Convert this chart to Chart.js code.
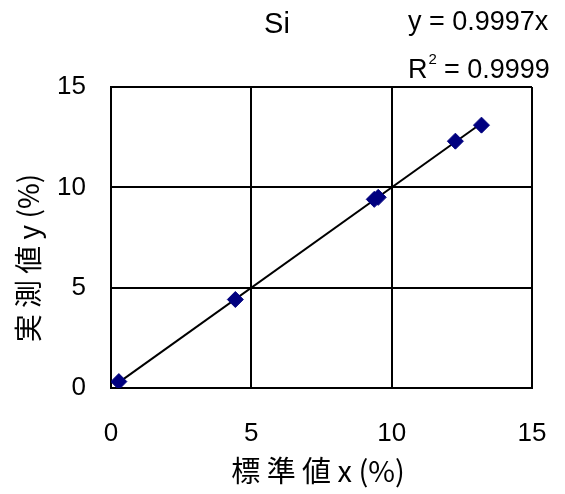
<!DOCTYPE html>
<html><head><meta charset="utf-8">
<script src="https://cdn.jsdelivr.net/npm/chart.js@4"></script>
<style>html,body{margin:0;padding:0;background:#fff;}#wrap{width:565px;height:494px;}</style>
</head><body><div id="wrap"><canvas id="c" width="565" height="494"></canvas></div>
<script>
const standardX = [0.28, 4.43, 9.38, 9.52, 12.27, 13.2];
const measuredY = [0.32, 4.41, 9.40, 9.50, 12.30, 13.10];
const slope = 0.9997;
const trendX = [0.28, 13.2];
const tickValues = [0, 5, 10, 15];
const chartTitle = "Si";
const eqLine1 = "y = 0.9997x";
const eqLine2 = "R";
const eqLine2b = " = 0.9999";
const xTitle = "標 準 値 x (%)";
const yTitle = "実 測 値 y (%)";

const points = standardX.map((x, i) => ({x: x, y: measuredY[i]}));
const trend = trendX.map(x => ({x: x, y: slope * x}));

const textPlugin = {
  id: 'texts',
  afterDraw(chart) {
    const ctx = chart.ctx;
    ctx.save();
    ctx.fillStyle = '#000';
    ctx.textBaseline = 'alphabetic';
    ctx.font = '29px "Liberation Sans", Arial, sans-serif';
    ctx.textAlign = 'center';
    ctx.fillText(chartTitle, 277, 33);
    ctx.font = '27px "Liberation Sans", Arial, sans-serif';
    ctx.textAlign = 'left';
    ctx.fillText(eqLine1, 408, 30);
    ctx.fillText(eqLine2, 408, 78);
    const rw = ctx.measureText(eqLine2).width;
    ctx.font = '15px "Liberation Sans", Arial, sans-serif';
    ctx.fillText('2', 408 + rw + 1, 64);
    ctx.font = '27px "Liberation Sans", Arial, sans-serif';
    ctx.fillText(eqLine2b, 408 + rw + 9, 78);
    ctx.font = '29px "Noto Sans CJK JP", sans-serif';
    ctx.textAlign = 'center';
    ctx.textBaseline = 'middle';
    ctx.fillText(xTitle, 318, 471);
    ctx.translate(28, 258);
    ctx.rotate(-Math.PI / 2);
    ctx.font = '28px "Noto Sans CJK JP", sans-serif';
    ctx.fillText(yTitle, 0, 0);
    ctx.restore();
  }
};

new Chart(document.getElementById('c'), {
  type: 'scatter',
  data: {
    datasets: [
      {
        data: trend, showLine: true, borderColor: '#000', borderWidth: 2,
        pointRadius: 0, fill: false, order: 2
      },
      {
        data: points, pointStyle: 'rectRot', pointRadius: 8,
        backgroundColor: '#00007f', borderColor: '#00007f', borderWidth: 1, order: 1
      }
    ]
  },
  options: {
    responsive: false, animation: false,
    layout: {padding: {top: 87, right: 33, left: 0, bottom: 0}},
    plugins: {legend: {display: false}, tooltip: {enabled: false}, title: {display: false}},
    scales: {
      x: {
        type: 'linear', min: 0, max: 15,
        afterBuildTicks: s => { s.ticks = tickValues.map(v => ({value: v})); },
        afterFit: s => { s.height = 494 - 388; s.paddingLeft = 0; s.paddingRight = 0; },
        grid: {color: '#000', lineWidth: 2, drawTicks: false},
        border: {color: '#000', width: 2},
        ticks: {padding: 30, color: '#000', font: {family: '"Liberation Sans", Arial, sans-serif', size: 26}, maxRotation: 0}
      },
      y: {
        type: 'linear', min: 0, max: 15,
        afterBuildTicks: s => { s.ticks = tickValues.map(v => ({value: v})); },
        afterFit: s => { s.width = 111; s.paddingTop = 0; s.paddingBottom = 0; },
        grid: {color: '#000', lineWidth: 2, drawTicks: false},
        border: {color: '#000', width: 2},
        ticks: {padding: 25, color: '#000', font: {family: '"Liberation Sans", Arial, sans-serif', size: 26}}
      }
    }
  },
  plugins: [textPlugin]
});
</script></body></html>
